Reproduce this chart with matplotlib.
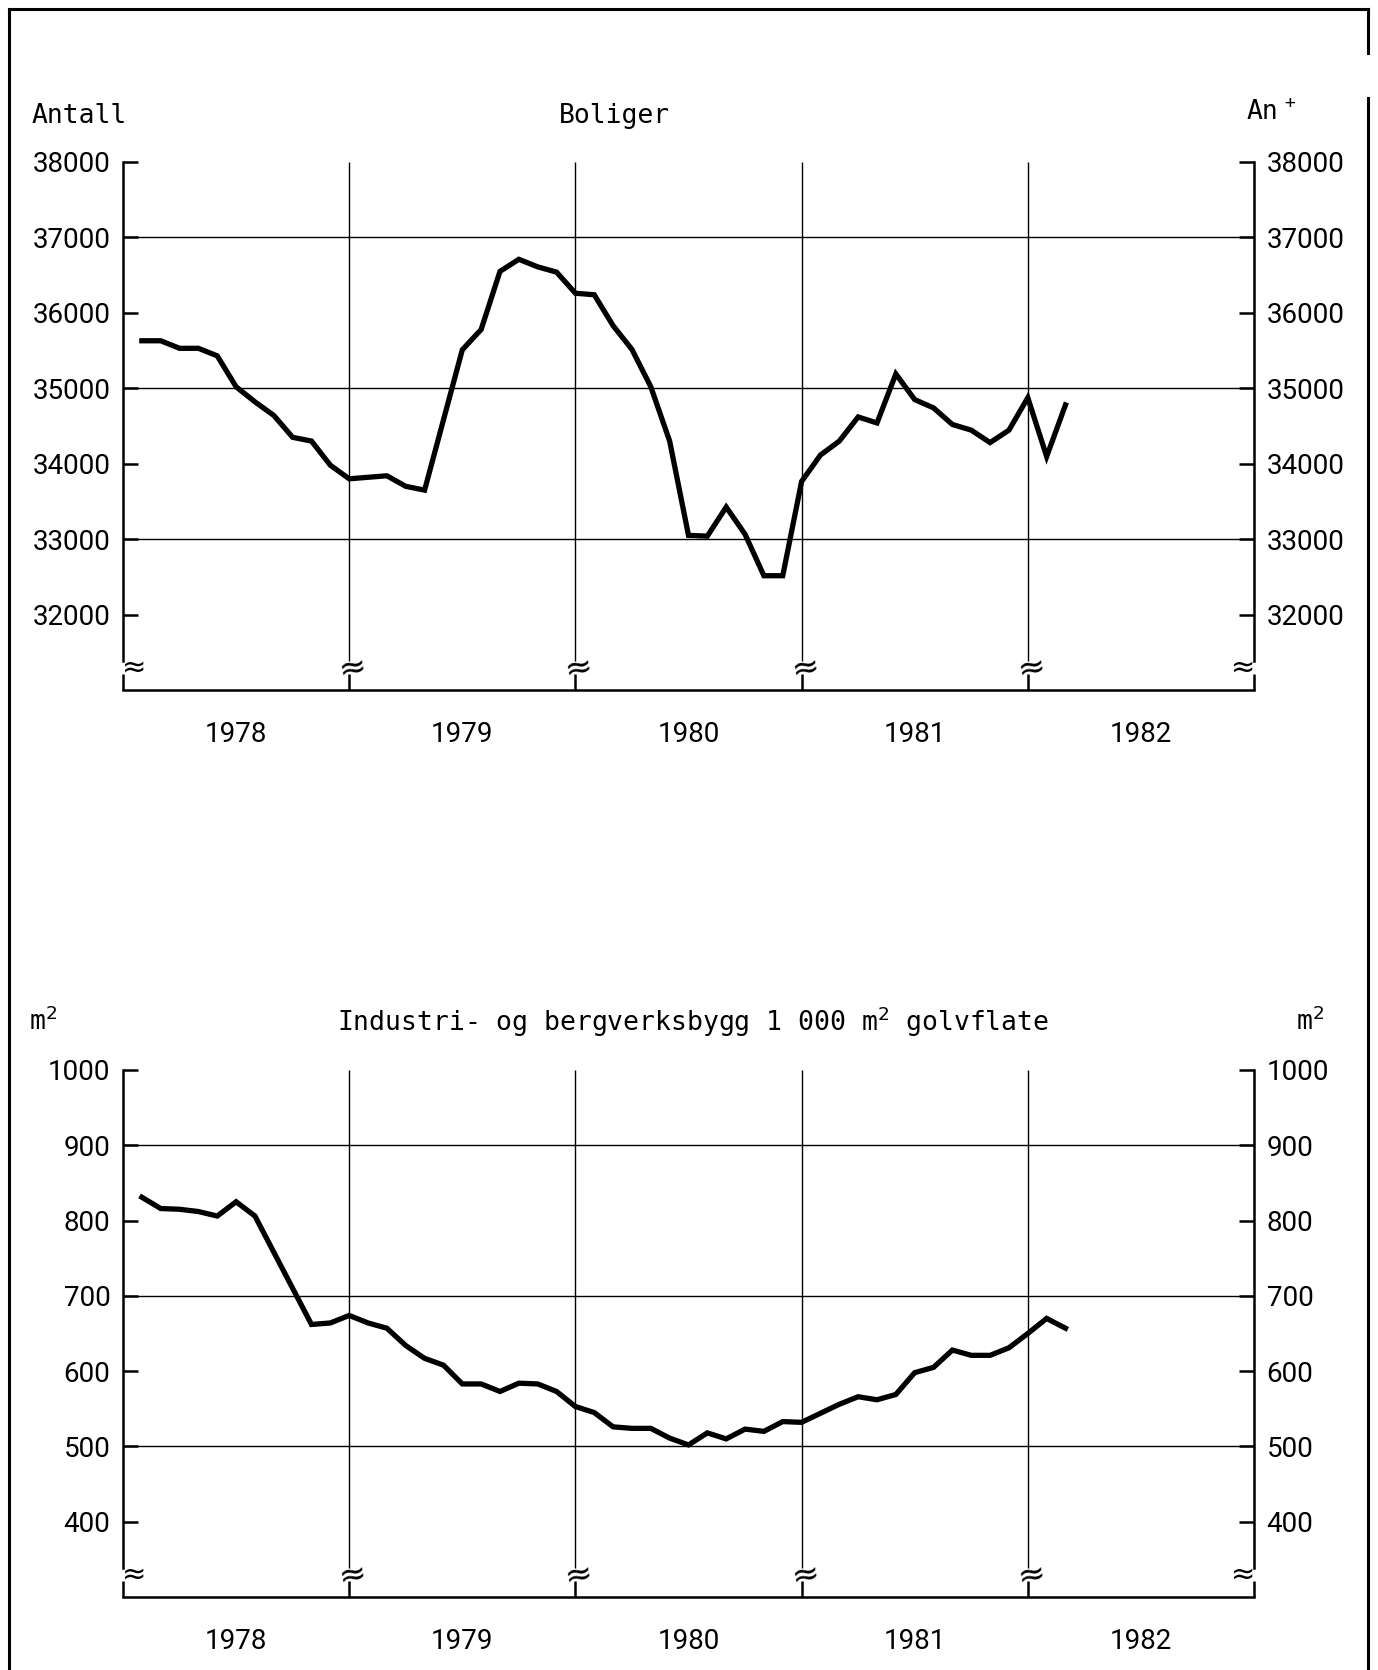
import matplotlib
matplotlib.use("Agg")
import matplotlib.pyplot as plt
from matplotlib import font_manager

W, H = 1378, 1670

years = [1978, 1979, 1980, 1981, 1982]
months = list(range(1, 51))  # jan 1978 .. feb 1982

boliger = [35630, 35630, 35530, 35530, 35430, 35020, 34820, 34640, 34350, 34300,
           33980, 33800, 33820, 33840, 33700, 33650, 34580, 35510, 35780, 36550,
           36710, 36610, 36540, 36260, 36240, 35830, 35515, 35020, 34300, 33050,
           33040, 33425, 33065, 32515, 32515, 33765, 34115, 34300, 34620, 34540,
           35190, 34850, 34740, 34520, 34445, 34280, 34445, 34875, 34095, 34780]

industri = [831, 816, 815, 812, 806, 825, 806, 758, 710, 662,
            664, 674, 664, 657, 634, 617, 608, 583, 583, 573,
            584, 583, 573, 553, 545, 526, 524, 524, 511, 502,
            518, 510, 523, 520, 533, 532, 544, 556, 566, 562,
            569, 598, 605, 628, 621, 621, 631, 650, 670, 657]

bol_ticks = [32000, 33000, 34000, 35000, 36000, 37000, 38000]
bol_grid = [33000, 35000, 37000]
ind_ticks = [400, 500, 600, 700, 800, 900, 1000]
ind_grid = [500, 700, 900]

names = {f.name for f in font_manager.fontManager.ttflist}
if "Liberation Sans Narrow" in names:
    num_font, num_size = "Liberation Sans Narrow", 23
elif "Roboto" in names:
    num_font, num_size = "Roboto", 20
else:
    num_font, num_size = "Liberation Sans", 20
mono = "DejaVu Sans Mono"


def px(x, y):
    return x / W, 1 - y / H


def draw_panel(ax, values, ticks, grid):
    step = ticks[1] - ticks[0]
    ybottom = ticks[0] - step
    top = ticks[-1]
    x0, x1 = years[0], years[-1] + 1
    x = [years[0] + k / 12 for k in months]
    ax.set_xlim(x0, x1)
    ax.set_ylim(ybottom, top)

    # break position and half gap
    yb = ybottom + 0.3 * step
    g = 0.09 * step

    for v in grid:
        ax.axhline(v, color="k", lw=1.0, zorder=1)
    for yr in years[1:]:
        ax.vlines(yr, yb + g, top, color="k", lw=1.0, zorder=1)
        ax.vlines(yr, ybottom, yb - g, color="k", lw=1.8, zorder=1)
        ax.text(yr + 0.015, yb, "\u2248", ha="center", va="center", fontsize=24,
                rotation=10, color="k", zorder=5)
    ax.plot(x, values, color="k", lw=3.8, solid_joinstyle="miter", zorder=3)

    ax.spines["top"].set_visible(False)
    for s in ["left", "right", "bottom"]:
        ax.spines[s].set_linewidth(1.8)
    ax.spines["left"].set_bounds(yb + g, top)
    ax.spines["right"].set_bounds(yb + g, top)
    for xs in [x0, x1]:
        ax.vlines(xs, ybottom, yb - g, color="k", lw=1.8, clip_on=False, zorder=4)
    ax.text(x0 - 0.006, yb, "\u2248", ha="left", va="center", fontsize=21,
            color="k", zorder=5, clip_on=False)
    ax.text(x1 + 0.006, yb, "\u2248", ha="right", va="center", fontsize=21,
            color="k", zorder=5, clip_on=False)

    ax.set_yticks(ticks)
    ax.set_yticklabels([str(t) for t in ticks], fontfamily=num_font, fontsize=num_size)
    ax.tick_params(axis="y", direction="in", length=11, width=1.8,
                   left=True, right=True, labelleft=True, labelright=True, pad=9)
    ax.set_xticks([yr + 0.5 for yr in years])
    ax.set_xticklabels([str(yr) for yr in years], fontfamily=num_font, fontsize=num_size)
    ax.tick_params(axis="x", length=0, pad=22)


fig = plt.figure(figsize=(W / 100, H / 100), dpi=100)

ax1 = fig.add_axes([123 / W, 1 - 690 / H, (1254 - 123) / W, (690 - 162) / H])
draw_panel(ax1, boliger, bol_ticks, bol_grid)

ax2 = fig.add_axes([123 / W, 1 - 1597 / H, (1254 - 123) / W, (1597 - 1070) / H])
draw_panel(ax2, industri, ind_ticks, ind_grid)

tsize = 19
fig.text(*px(32, 116), "Antall", fontfamily=mono, fontsize=tsize, ha="left", va="center")
fig.text(*px(614, 116), "Boliger", fontfamily=mono, fontsize=tsize, ha="center", va="center")
fig.text(*px(1247, 112), "An", fontfamily=mono, fontsize=tsize, ha="left", va="center")
fig.text(*px(1284, 103), "+", fontfamily=mono, fontsize=13, ha="left", va="center")

fig.text(*px(29, 1022), "m$^{2}$", fontfamily=mono, fontsize=tsize, ha="left", va="center")
fig.text(*px(1296, 1022), "m$^{2}$", fontfamily=mono, fontsize=tsize, ha="left", va="center")
fig.text(*px(337, 1022), "Industri- og bergverksbygg 1 000 m$^{2}$ golvflate",
         fontfamily=mono, fontsize=tsize, ha="left", va="center")

# page frame
frame = dict(color="k", lw=2.2, transform=fig.transFigure)
fig.add_artist(plt.Line2D([9 / W, 1368 / W], [1 - 9 / H, 1 - 9 / H], **frame))
fig.add_artist(plt.Line2D([9 / W, 9 / W], [1 - 9 / H, 0], **frame))
fig.add_artist(plt.Line2D([1368 / W, 1368 / W], [1 - 9 / H, 1 - 53 / H], **frame))
fig.add_artist(plt.Line2D([1368 / W, 1368 / W], [1 - 98 / H, 0], **frame))

fig.savefig("out.png", dpi=100, facecolor="white")
